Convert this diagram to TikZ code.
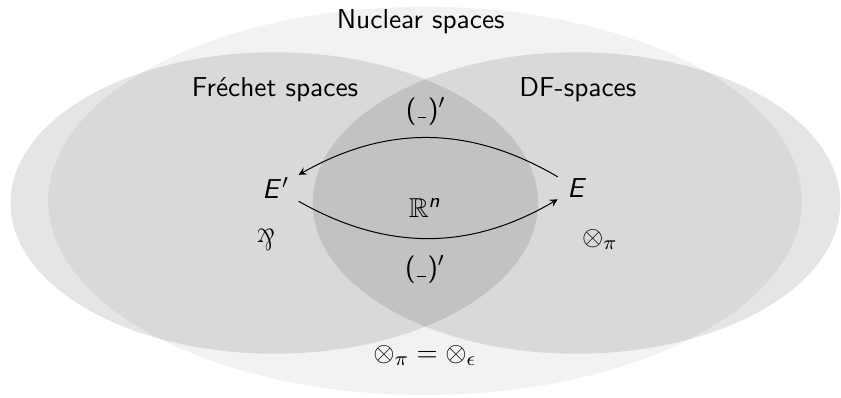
\documentclass[tikz,border=0pt,11pt]{standalone}
\usepackage{amsmath}
\usepackage{amssymb}
\usepackage{tikz}
\DeclareMathAlphabet{\mathsfit}{OT1}{cmss}{m}{sl}
\newcommand{\dualof}{(\kern.06em\rule{0.3em}{0.4pt}\kern.06em)$'$}

\begin{document}
\begin{tikzpicture}[every node/.style={font=\sffamily}]
	\useasboundingbox (-5.978,-2.729) rectangle (5.851,2.855);
	
	\fill [gray!10] (0,0.03) ellipse [x radius=5.30cm, y radius=2.73cm];
	\begin{scope}[fill opacity=0.1]
	\fill [black] (-2.12,0) ellipse [x radius=3.71cm, y radius=2.12cm];
	\fill [black] (2.13,0) ellipse [x radius=3.71cm, y radius=2.12cm];
	\end{scope}
	
	\node (N) at (-0.06,2.55) {Nuclear spaces};
	\node (F) at (-2.11,1.59) {Fr\'echet spaces};
	\node (D) at (2.15,1.59) {DF-spaces};
	
	\node (A1) at (-2.10,0.21) {$\mathsfit{E}'$};
	\node (A2) at (2.14,0.21) {$\mathsfit{E}$};
	\node (R) at (0,-0.07) {$\mathbb{R}^{\mathsfit{n}}$};
	\node (L1) at (0.01,1.29) {\dualof};
	\node (L2) at (0,-0.94) {\dualof};
	\node (P) at (-2.24,-0.52) {\scalebox{0.85}[1.1]{\rotatebox[origin=c]{180}{$\&$}}};
	\node (T) at (2.46,-0.52) {$\otimes_\pi$};
	\node (TE) at (0,-2.14) {$\otimes_\pi=\otimes_\epsilon$};
	
	\draw [->,>=stealth] (A2) edge [bend right=30] (A1);
	\draw [->,>=stealth] (A1) edge [bend right=30] (A2);
\end{tikzpicture}
\end{document}
